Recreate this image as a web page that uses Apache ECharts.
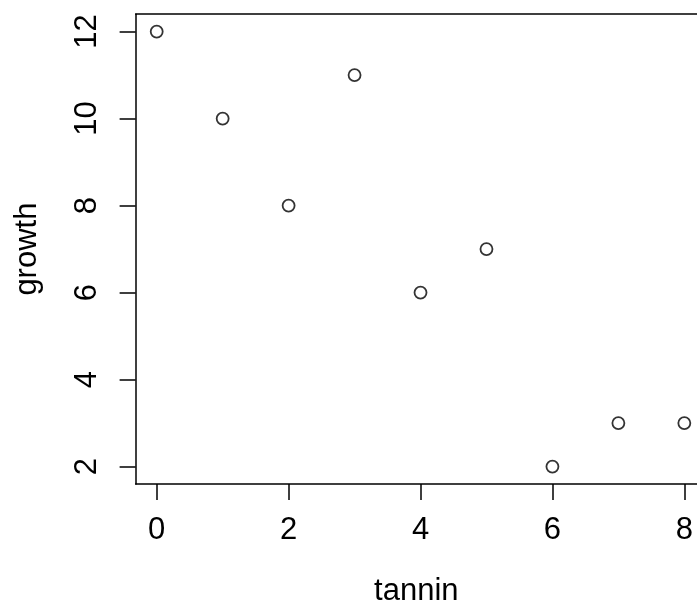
<!DOCTYPE html>
<html>
<head>
<meta charset="utf-8">
<script src="https://cdn.jsdelivr.net/npm/echarts@6/dist/echarts.min.js"></script>
<style>
  html, body { margin: 0; padding: 0; background: #fff; overflow: hidden; }
  #chart { width: 697px; height: 612px; }
</style>
</head>
<body>
<div id="chart"></div>
<script>
// data
const tannin = [0, 1, 2, 3, 4, 5, 6, 7, 8];
const growth = [12, 10, 8, 11, 6, 7, 2, 3, 3];
const xTicks = [0, 2, 4, 6, 8];
const yTicks = [2, 4, 6, 8, 10, 12];

const font = "'Liberation Sans', Arial, sans-serif";
const fs = 31;
const black = { color: '#000', width: 1.5 };

const chart = echarts.init(document.getElementById('chart'));

// the plot box runs past the right edge of the picture, so the visible
// part of the x range stops short of R's usual 8.32
const option = {
  animation: false,
  backgroundColor: '#fff',
  grid: {
    left: 135.6,
    top: 14.2,
    right: 0,
    bottom: 124.5,
    show: false,
    containLabel: false
  },
  xAxis: [{
    type: 'value',
    min: -0.32,
    max: 8.192,
    name: 'tannin',
    nameLocation: 'middle',
    nameGap: 92,
    nameTextStyle: { color: '#000', fontSize: fs, fontFamily: font },
    axisLine: { show: true, onZero: false, lineStyle: black },
    splitLine: { show: false },
    axisTick: {
      show: true, inside: false, length: 16,
      customValues: xTicks,
      lineStyle: black
    },
    axisLabel: {
      customValues: xTicks,
      margin: 31,
      color: '#000', fontSize: fs, fontFamily: font
    }
  }, {
    // top edge of the box
    type: 'value',
    position: 'top',
    min: -0.32,
    max: 8.192,
    axisLine: { show: true, onZero: false, lineStyle: black },
    axisTick: { show: false },
    axisLabel: { show: false },
    splitLine: { show: false }
  }],
  yAxis: {
    type: 'value',
    min: 1.6,
    max: 12.4,
    name: 'growth',
    nameLocation: 'middle',
    nameGap: 93,
    nameTextStyle: { color: '#000', fontSize: fs, fontFamily: font },
    axisLine: { show: true, onZero: false, lineStyle: black },
    splitLine: { show: false },
    axisTick: {
      show: true, inside: false, length: 16,
      customValues: yTicks,
      lineStyle: black
    },
    axisLabel: {
      customValues: yTicks,
      rotate: 90,
      margin: 33,
      color: '#000', fontSize: fs, fontFamily: font
    }
  },
  series: [{
    type: 'scatter',
    data: tannin.map((t, i) => [t, growth[i]]),
    symbol: 'circle',
    symbolSize: 12,
    itemStyle: { color: '#fff', borderColor: '#000', borderWidth: 1.8 },
    clip: false
  }]
};

chart.setOption(option);
</script>
</body>
</html>
